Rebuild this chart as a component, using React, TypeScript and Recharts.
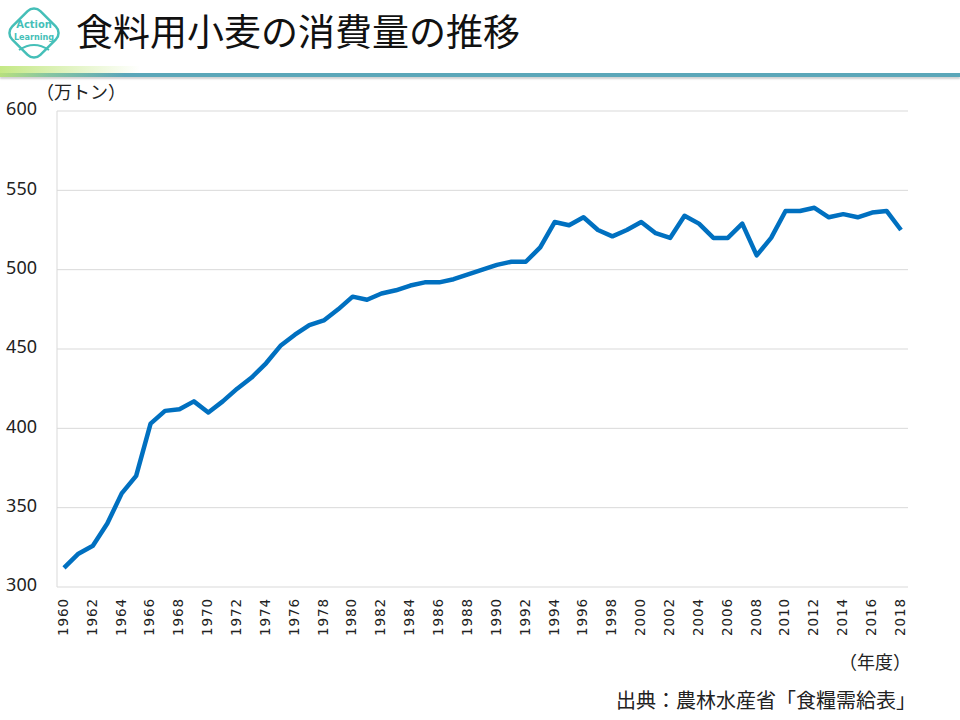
import { LineChart, Line, XAxis, YAxis, CartesianGrid } from "recharts";

// 食料用小麦の消費量（万トン）, 農林水産省「食糧需給表」
const years = [
  "1960", "1961", "1962", "1963", "1964", "1965", "1966", "1967", "1968", "1969",
  "1970", "1971", "1972", "1973", "1974", "1975", "1976", "1977", "1978", "1979",
  "1980", "1981", "1982", "1983", "1984", "1985", "1986", "1987", "1988", "1989",
  "1990", "1991", "1992", "1993", "1994", "1995", "1996", "1997", "1998", "1999",
  "2000", "2001", "2002", "2003", "2004", "2005", "2006", "2007", "2008", "2009",
  "2010", "2011", "2012", "2013", "2014", "2015", "2016", "2017", "2018",
];

const consumption = [
  312, 321, 326, 340, 359, 370, 403, 411, 412, 417,
  410, 417, 425, 432, 441, 452, 459, 465, 468, 475,
  483, 481, 485, 487, 490, 492, 492, 494, 497, 500,
  503, 505, 505, 514, 530, 528, 533, 525, 521, 525,
  530, 523, 520, 534, 529, 520, 520, 529, 509, 520,
  537, 537, 539, 533, 535, 533, 536, 537, 525,
];

const yTicks = [300, 350, 400, 450, 500, 550, 600];

const data = years.map((year, i) => ({ year, value: consumption[i] }));

const JP = '"Noto Sans CJK JP", "Noto Sans", sans-serif';
const GRID = "#d9d9d9";
const TEAL = "#45bfb8";

function YearTick({ x, y, payload }: any) {
  return (
    <g transform={`translate(${x - 1},${y})`}>
      <text
        transform="rotate(-90)"
        textAnchor="end"
        dy="0.36em"
        fontSize={13.5}
        letterSpacing={0.9}
        fill="#222"
        fontFamily='"DejaVu Sans", sans-serif'
      >
        {payload.value}
      </text>
    </g>
  );
}

function ValueTick({ x, y, payload }: any) {
  return (
    <text
      x={x}
      y={y - 2}
      dy="0.36em"
      textAnchor="end"
      fontSize={18}
      fill="#222"
      fontFamily='"Noto Sans", sans-serif'
    >
      {payload.value}
    </text>
  );
}

function Logo() {
  return (
    <svg width={62} height={62} style={{ position: "absolute", left: 3, top: 2 }}>
      <rect
        x={11}
        y={11}
        width={40}
        height={40}
        rx={9}
        transform="rotate(45 31 31)"
        fill="#fff"
        stroke={TEAL}
        strokeWidth={2.5}
      />
      <path d="M16 48 Q31 38 46 48" fill="none" stroke={TEAL} strokeWidth={2} />
      <text x={31} y={26} textAnchor="middle" fontSize={11} fontWeight={700} fill={TEAL} fontFamily='"Liberation Sans Narrow", "DejaVu Sans Condensed", sans-serif'>
        Action
      </text>
      <text x={31} y={38} textAnchor="middle" fontSize={9} fontWeight={700} fill={TEAL} fontFamily='"Liberation Sans Narrow", "DejaVu Sans Condensed", sans-serif'>
        Learning
      </text>
    </svg>
  );
}

export default function App() {
  return (
    <div style={{ position: "relative", width: 960, height: 720, background: "#fff", fontFamily: JP, overflow: "hidden" }}>
      <style>{`body{margin:0}`}</style>
      <Logo />
      <div
        style={{
          position: "absolute",
          left: 76,
          top: 8,
          fontSize: 37,
          lineHeight: "44px",
          color: "#111",
          whiteSpace: "nowrap",
        }}
      >
        食料用小麦の消費量の推移
      </div>
      <div
        style={{
          position: "absolute",
          left: 0,
          top: 66,
          width: 140,
          height: 8,
          background: "linear-gradient(to right, rgba(190,230,120,0.9), rgba(190,230,120,0))",
        }}
      />
      <div
        style={{
          position: "absolute",
          left: 0,
          top: 73,
          width: 960,
          height: 4,
          background: "linear-gradient(to right, #b7df7e 0%, #86c5a2 5%, #5ba7b9 13%, #5ba7b9 100%)",
          boxShadow: "0 2px 2px rgba(0,0,0,0.18)",
        }}
      />
      <div style={{ position: "absolute", left: 36, top: 80, fontSize: 18, lineHeight: "22px", color: "#222", whiteSpace: "nowrap" }}>
        （万トン）
      </div>
      <div style={{ position: "absolute", left: 839, top: 650, fontSize: 18, lineHeight: "22px", color: "#222", whiteSpace: "nowrap" }}>
        （年度）
      </div>
      <div style={{ position: "absolute", left: 616, top: 688, fontSize: 20, lineHeight: "24px", color: "#222", whiteSpace: "nowrap" }}>
        出典：農林水産省「食糧需給表」
      </div>
      <div style={{ position: "absolute", left: 0, top: 0 }}>
        <LineChart width={960} height={720} data={data} margin={{ top: 111, right: 52, bottom: 83, left: 0 }}>
          <CartesianGrid vertical={false} stroke={GRID} strokeWidth={1} />
          <XAxis
            dataKey="year"
            interval={1}
            height={50}
            padding={{ left: 7, right: 7 }}
            tickSize={0}
            tickMargin={11}
            axisLine={false}
            tickLine={false}
            tick={<YearTick />}
          />
          <YAxis
            width={57}
            domain={[300, 600]}
            ticks={yTicks}
            tickSize={0}
            tickMargin={20}
            axisLine={{ stroke: GRID, strokeWidth: 1 }}
            tickLine={false}
            tick={<ValueTick />}
          />
          <YAxis
            yAxisId="frame"
            orientation="right"
            width={0}
            domain={[300, 600]}
            ticks={yTicks}
            tick={false}
            tickLine={false}
            axisLine={{ stroke: GRID, strokeWidth: 1 }}
          />
          <Line
            type="linear"
            dataKey="value"
            stroke="#0070c0"
            strokeWidth={4.5}
            strokeLinejoin="round"
            dot={false}
            isAnimationActive={false}
          />
        </LineChart>
      </div>
    </div>
  );
}
